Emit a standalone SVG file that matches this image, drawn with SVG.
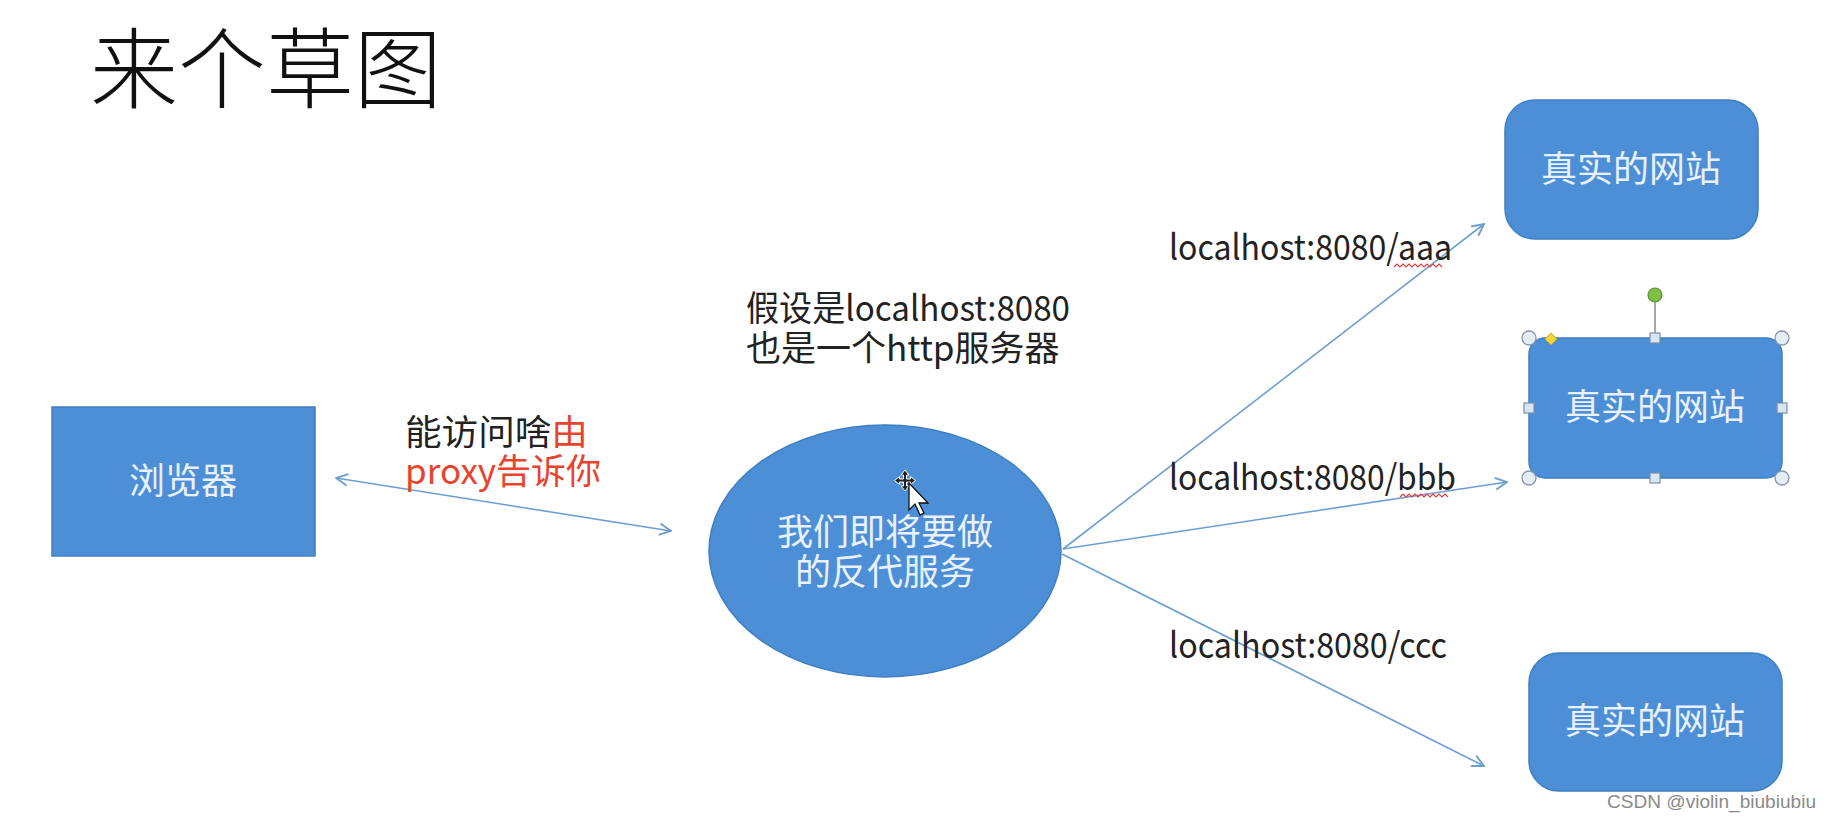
<svg xmlns="http://www.w3.org/2000/svg" width="1829" height="819" viewBox="0 0 1829 819">
<defs>
<style>
.t{font-family:"Noto Sans CJK SC","Noto Sans",sans-serif;}
.dark{fill:#222;font-size:35px;}
.red{fill:#e8432d;}
.wt{fill:#e9f1fb;font-size:36px;}
.box{fill:#4d8fd7;stroke:#3f7fc2;stroke-width:1.5;}
.conn{stroke:#6c9ed3;stroke-width:1.6;fill:none;}
.sq{fill:none;stroke:#e04040;stroke-width:1.2;}
.hc{fill:#e6edf4;stroke:#8797a8;stroke-width:1.3;}
.hs{fill:#d8e6f3;stroke:#7d8fa2;stroke-width:1.2;}
</style>
<marker id="ah" viewBox="0 0 12 12" refX="11" refY="6" markerWidth="14" markerHeight="14" markerUnits="userSpaceOnUse" orient="auto-start-reverse">
<path d="M1,1 L11,6 L1,11" fill="none" stroke="#6c9ed3" stroke-width="1.6"/>
</marker>
</defs>
<rect width="1829" height="819" fill="#ffffff"/>

<text x="90" y="101" class="t" font-size="88" fill="#111" font-weight="300" font-family="&quot;Noto Sans CJK SC&quot;,serif">来个草图</text>

<g id="connectors">
<line class="conn" x1="336" y1="478" x2="671" y2="531" marker-start="url(#ah)" marker-end="url(#ah)"/>
<line class="conn" x1="1063" y1="549" x2="1484" y2="224" marker-end="url(#ah)"/>
<line class="conn" x1="1063" y1="549" x2="1507" y2="482" marker-end="url(#ah)"/>
<line class="conn" x1="1062" y1="554" x2="1484" y2="766" marker-end="url(#ah)"/>
</g>

<g id="browser">
<rect x="52" y="407" width="263" height="149" class="box"/>
<text x="183" y="494" class="t wt" text-anchor="middle">浏览器</text>
</g>

<g id="label-browser">
<text x="405" y="445" class="t dark" textLength="183" lengthAdjust="spacingAndGlyphs">能访问啥<tspan class="red">由</tspan></text>
<text x="405" y="484" class="t dark red">proxy告诉你</text>
</g>

<g id="label-proxy">
<text x="746" y="321" class="t dark" textLength="324" lengthAdjust="spacingAndGlyphs">假设是localhost:8080</text>
<text x="746" y="361" class="t dark">也是一个http服务器</text>
</g>

<g id="proxy">
<ellipse cx="885" cy="551" rx="176" ry="126" class="box"/>
<text x="885" y="545" class="t wt" text-anchor="middle">我们即将要做</text>
<text x="885" y="585" class="t wt" text-anchor="middle">的反代服务</text>
<g id="cursor">
<path d="M905,470 l4,5 h-2.5 v4 h4 v-2.5 l5,4 l-5,4 v-2.5 h-4 v4 h2.5 l-4,5 l-4,-5 h2.5 v-4 h-4 v2.5 l-5,-4 l5,-4 v2.5 h4 v-4 h-2.5 z" fill="#222" stroke="#fff" stroke-width="1"/>
<path d="M909,483 v27 l6,-6 l5,11 l4,-2 l-5,-10 h9 z" fill="#fff" stroke="#111" stroke-width="1.3"/>
</g>
</g>

<g id="label-aaa">
<text x="1169" y="260" class="t dark" textLength="283" lengthAdjust="spacingAndGlyphs">localhost:8080/aaa</text>
<path class="sq" d="M1394,267 l3,-3 l3,3 l3,-3 l3,3 l3,-3 l3,3 l3,-3 l3,3 l3,-3 l3,3 l3,-3 l3,3 l3,-3 l3,3 l3,-3 l3,3"/>
</g>
<g id="label-bbb">
<text x="1169" y="490" class="t dark" textLength="287" lengthAdjust="spacingAndGlyphs">localhost:8080/bbb</text>
<path class="sq" d="M1400,497 l3,-3 l3,3 l3,-3 l3,3 l3,-3 l3,3 l3,-3 l3,3 l3,-3 l3,3 l3,-3 l3,3 l3,-3 l3,3 l3,-3 l3,3"/>
</g>
<g id="label-ccc">
<text x="1169" y="658" class="t dark" textLength="278" lengthAdjust="spacingAndGlyphs">localhost:8080/ccc</text>
</g>

<g id="site1">
<rect x="1505" y="100" width="253" height="139" rx="30" class="box"/>
<text x="1631" y="182" class="t wt" text-anchor="middle">真实的网站</text>
</g>

<g id="site2">
<rect x="1529" y="338" width="253" height="140" rx="16" class="box"/>
<text x="1655" y="420" class="t wt" text-anchor="middle">真实的网站</text>
<line x1="1655" y1="302" x2="1655" y2="333" stroke="#8a8a8a" stroke-width="1.5"/>
<circle cx="1655" cy="295" r="7" fill="#7dc043" stroke="#5f8f3c" stroke-width="1.2"/>
<circle cx="1529" cy="338" r="7" class="hc"/>
<circle cx="1782" cy="338" r="7" class="hc"/>
<circle cx="1529" cy="478" r="7" class="hc"/>
<circle cx="1782" cy="478" r="7" class="hc"/>
<rect x="1650" y="333" width="10" height="10" class="hs"/>
<rect x="1650" y="473" width="10" height="10" class="hs"/>
<rect x="1524" y="403" width="10" height="10" class="hs"/>
<rect x="1777" y="403" width="10" height="10" class="hs"/>
<path d="M1551,333 l6,6 l-6,6 l-6,-6 z" fill="#f4d23c" stroke="#c9a826" stroke-width="1"/>
</g>

<g id="site3">
<rect x="1529" y="653" width="253" height="138" rx="30" class="box"/>
<text x="1655" y="734" class="t wt" text-anchor="middle">真实的网站</text>
</g>

<text x="1607" y="808" font-family="'Liberation Sans',sans-serif" font-size="18" fill="#8a8a8a" textLength="209" lengthAdjust="spacingAndGlyphs">CSDN @violin_biubiubiu</text>
</svg>
